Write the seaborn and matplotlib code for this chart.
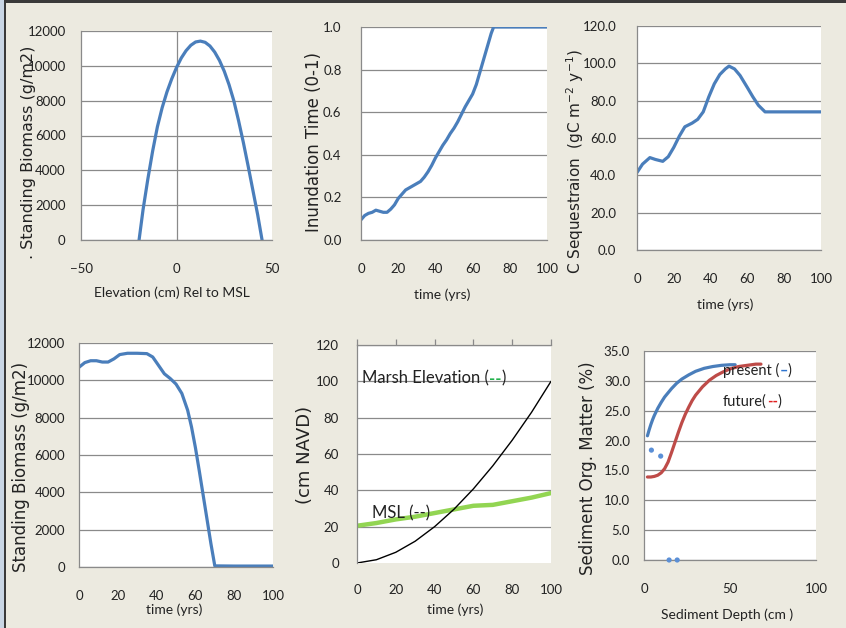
import matplotlib
matplotlib.use("Agg")
import matplotlib.pyplot as plt
import seaborn as sns
from matplotlib.offsetbox import TextArea, HPacker, AnnotationBbox
from matplotlib.patches import Rectangle
from matplotlib.ticker import FormatStrFormatter

# ---- Standing biomass vs. elevation relative to MSL ----
elev_cm = [-19.6, -17.5, -15, -12.5, -10, -7.5, -5, -2.5, 0, 2.5, 5, 7.5, 10,
           12.5, 15, 17.5, 20, 22.5, 25, 27.5, 30, 32.5, 35, 37.5, 40, 42.5, 44.8]
biomass_elev = [0, 1750, 3500, 5100, 6500, 7600, 8500, 9250, 9900, 10450, 10870,
                11180, 11370, 11420, 11350, 11140, 10790, 10310, 9690, 8920, 8000,
                6850, 5600, 4250, 2850, 1450, 0]

# ---- Inundation time vs. time ----
t_inund = [0, 2, 4, 6, 8, 10, 12, 14, 16, 18, 20, 22, 24, 26, 28, 30, 32, 34, 36,
           38, 40, 42, 44, 46, 48, 50, 52, 54, 56, 58, 60, 62, 64, 66, 68, 70,
           71.3, 80, 90, 100]
inundation = [0.095, 0.115, 0.125, 0.13, 0.14, 0.135, 0.13, 0.13, 0.145, 0.165,
              0.195, 0.215, 0.235, 0.245, 0.255, 0.265, 0.275, 0.295, 0.32, 0.35,
              0.385, 0.415, 0.445, 0.47, 0.50, 0.525, 0.555, 0.59, 0.625, 0.655,
              0.685, 0.73, 0.79, 0.85, 0.91, 0.97, 1.0, 1.0, 1.0, 1.0]

# ---- Carbon sequestration vs. time ----
t_cseq = [0, 3, 7, 10, 14, 17, 20, 23, 26, 30, 33, 36, 39, 42, 45, 48, 50, 53,
          56, 60, 63, 66, 69.6, 80, 90, 100]
c_seq = [41.5, 46, 49.5, 48.5, 47.5, 50, 55, 61, 66, 68, 70, 74, 82, 89, 94, 97,
         98.5, 97, 93.5, 87, 82, 77.5, 74, 74, 74, 74]

# ---- Standing biomass vs. time ----
t_bio = [0, 3, 6, 9, 12, 15, 18, 21, 25, 30, 35, 38, 41, 44, 47, 50, 53, 56, 58,
         60, 62, 64, 66, 68, 70, 80, 90, 100]
biomass_t = [10700, 10950, 11050, 11050, 10980, 10980, 11150, 11380, 11450,
             11450, 11430, 11250, 10800, 10350, 10100, 9800, 9300, 8400, 7500,
             6400, 5150, 3850, 2550, 1250, 60, 50, 50, 50]

# ---- Marsh elevation and mean sea level (cm NAVD) ----
t_elev = [0, 10, 20, 30, 40, 50, 60, 70, 80, 90, 100]
msl_cm = [20.5, 22, 24, 25.5, 27.5, 29.5, 31.5, 32, 34, 36, 38.5]
marsh_cm = [0, 1.8, 5.9, 12, 20, 29.6, 40.8, 53.5, 67.6, 83, 100]

# ---- Sediment organic matter profiles ----
depth_present = [2, 3, 4, 5, 6, 8, 10, 12, 14, 16, 19, 22, 26, 30, 35, 40, 45, 50, 53]
om_present = [20.8, 21.8, 22.7, 23.5, 24.2, 25.4, 26.4, 27.3, 28.0, 28.7, 29.6,
              30.3, 31.0, 31.6, 32.1, 32.4, 32.6, 32.7, 32.7]
depth_future = [2, 4, 6, 8, 10, 12, 14, 16, 18, 20, 22, 24, 26, 28, 30, 34, 38,
                42, 46, 50, 55, 60, 65, 68]
om_future = [13.9, 13.9, 14.0, 14.2, 14.6, 15.3, 16.4, 18.0, 19.7, 21.4, 23.0,
             24.4, 25.6, 26.7, 27.6, 29.0, 30.1, 30.9, 31.5, 32.0, 32.4, 32.6,
             32.8, 32.8]
depth_obs = [4.3, 9.7, 14.6, 19.3]
om_obs = [18.4, 17.4, 0.0, 0.0]

# ---- styling ----
sns.set_theme(style="white")
plt.rcParams["font.family"] = ["Lato", "DejaVu Sans"]

W, H = 846, 628
BG = "#ECEAE0"
GRID = "#8A8A8A"
TXT = "#222222"
BLUE = "#4A7EBB"
RED = "#BE4B48"
GREEN = "#92D552"
TICK_FS = 9.5
XLAB_FS = 10
YLAB_FONT = dict(family=["DejaVu Sans"], color=TXT)

fig = plt.figure(figsize=(W / 100, H / 100), dpi=100)
fig.patch.set_facecolor(BG)

# window frame edges
fig.add_artist(Rectangle((0, 1 - 2.5 / H), 1, 2.5 / H, transform=fig.transFigure,
                         color="#3A3A3A", lw=0))
fig.add_artist(Rectangle((0, 0), 4 / W, 1, transform=fig.transFigure,
                         color="#C9D6E5", lw=0))
fig.add_artist(Rectangle((4 / W, 0), 1.5 / W, 1, transform=fig.transFigure,
                         color="#3A3A3A", lw=0))


def panel(x0, y0, x1, y1, xlim, ylim, xticks, yticks, yfmt=None,
          ypad=7, xpad=12.5):
    ax = fig.add_axes([x0 / W, 1 - y1 / H, (x1 - x0) / W, (y1 - y0) / H])
    ax.set_facecolor("white")
    ax.set_xlim(*xlim)
    ax.set_ylim(*ylim)
    ax.set_xticks(xticks)
    ax.set_yticks(yticks)
    if yfmt:
        ax.yaxis.set_major_formatter(FormatStrFormatter(yfmt))
    for s in ("top", "right"):
        ax.spines[s].set_visible(False)
    for s in ("left", "bottom"):
        ax.spines[s].set_color(GRID)
        ax.spines[s].set_linewidth(0.9)
    ax.tick_params(axis="both", direction="out", length=4, width=0.9,
                   color=GRID, labelsize=TICK_FS, labelcolor=TXT)
    ax.tick_params(axis="y", pad=ypad)
    ax.tick_params(axis="x", pad=xpad)
    ax.yaxis.grid(True, color=GRID, lw=0.9)
    ax.xaxis.grid(False)
    ax.set_axisbelow(True)
    return ax


def labels(ax, xlab, xc, xy, ylab, yx, yc, ysize=12):
    ax.set_xlabel(xlab, fontsize=XLAB_FS, color=TXT, va="center")
    ax.xaxis.set_label_coords(xc / W, 1 - xy / H, transform=fig.transFigure)
    ax.set_ylabel(ylab, va="center", size=ysize, **YLAB_FONT)
    ax.yaxis.set_label_coords(yx / W, 1 - yc / H, transform=fig.transFigure)


def line(ax, x, y, color, lw):
    sns.lineplot(x=x, y=y, ax=ax, color=color, lw=lw, sort=False,
                 estimator=None, legend=False)


def colored_label(ax, parts, xy, size):
    boxes = [TextArea(s, textprops=dict(color=c, size=size,
                                        weight="bold" if c != TXT else "normal"))
             for s, c in parts]
    pack = HPacker(children=boxes, align="baseline", pad=0, sep=0)
    ab = AnnotationBbox(pack, xy, xycoords="data", frameon=False,
                        box_alignment=(0, 0.5), pad=0)
    ax.add_artist(ab)


# 1: biomass vs elevation
ax1 = panel(81, 31, 272, 240, (-50, 50), (0, 12000), [-50, 0, 50],
            range(0, 12001, 2000))
ax1.axvline(0, color=GRID, lw=0.9, zorder=1)
line(ax1, elev_cm, biomass_elev, BLUE, 2.3)
labels(ax1, "Elevation (cm) Rel to MSL", 172, 293,
       ". Standing Biomass (g/m2)", 28, 152, ysize=11.5)

# 2: inundation time
ax2 = panel(361, 27, 547, 240, (0, 100), (0, 1.0), range(0, 101, 20),
            [0, 0.2, 0.4, 0.6, 0.8, 1.0], "%.1f", ypad=10)
line(ax2, t_inund, inundation, BLUE, 2.3)
labels(ax2, "time (yrs)", 442, 295, "Inundation Time (0-1)", 314, 142)

# 3: carbon sequestration
ax3 = panel(637, 26, 821, 250, (0, 100), (0, 120), range(0, 101, 20),
            range(0, 121, 20), "%.1f", ypad=11)
line(ax3, t_cseq, c_seq, BLUE, 2.3)
labels(ax3, "time (yrs)", 725, 305,
       r"C Sequestraion  (gC m$^{-2}$ y$^{-1}$)", 575, 162, ysize=11)

# 4: biomass vs time
ax4 = panel(79, 343, 273, 567, (0, 100), (0, 12000), range(0, 101, 20),
            range(0, 12001, 2000), ypad=6)
line(ax4, t_bio, biomass_t, BLUE, 2.3)
labels(ax4, "time (yrs)", 174, 610, "Standing Biomass (g/m2)", 21, 467)

# 5: marsh elevation and MSL
ax5 = panel(357, 345, 551, 563, (0, 100), (0, 120), range(0, 101, 20),
            range(0, 121, 20), ypad=9)
ax5.spines["bottom"].set_visible(False)
ax5.spines["top"].set_visible(True)
ax5.spines["top"].set_color(GRID)
ax5.spines["top"].set_linewidth(0.9)
ax5.tick_params(axis="x", top=True, bottom=False, labeltop=False,
                labelbottom=True, pad=11)
ax5.get_ygridlines()[0].set_visible(False)
line(ax5, t_elev, msl_cm, GREEN, 3.2)
line(ax5, t_elev, marsh_cm, "black", 1.0)
colored_label(ax5, [("Marsh Elevation (", TXT), ("--", "#22B14C"), (")", TXT)],
              (2.4, 101.5), 12)
colored_label(ax5, [("MSL (--)", TXT)], (7.5, 27.3), 12)
labels(ax5, "time (yrs)", 455, 610, "(cm NAVD)", 305, 455, ysize=13)

# 6: sediment organic matter
ax6 = panel(644, 351, 816, 560, (0, 100), (0, 35), [0, 50, 100],
            [0, 5, 10, 15, 20, 25, 30, 35], "%.1f", ypad=6)
line(ax6, depth_present, om_present, BLUE, 2.3)
line(ax6, depth_future, om_future, RED, 2.3)
sns.scatterplot(x=depth_obs, y=om_obs, ax=ax6, color="#5B8FD6", s=14,
                edgecolor="none", legend=False, zorder=5, clip_on=False)
colored_label(ax6, [("present (", TXT), ("\u2013", "#2E75D0"), (")", TXT)],
              (46, 31.8), 10.5)
colored_label(ax6, [("future(", TXT), ("--", "#E02020"), (")", TXT)],
              (46, 26.5), 10.5)
labels(ax6, "Sediment Depth (cm )", 727, 615, "Sediment Org. Matter (%)", 588, 468)

fig.savefig("out.png", dpi=100, facecolor=BG)
